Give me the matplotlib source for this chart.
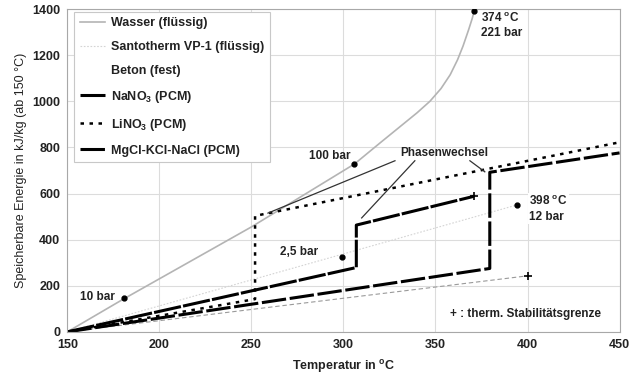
"""Speicherbare Energie verschiedener Speichermedien ueber der Temperatur."""
import matplotlib
matplotlib.use("Agg")
import matplotlib.pyplot as plt

plt.rcParams["font.family"] = ["Liberation Sans", "DejaVu Sans"]
plt.rcParams["mathtext.fontset"] = "custom"
plt.rcParams["mathtext.rm"] = "Liberation Sans:bold"
plt.rcParams["mathtext.default"] = "rm"

# Wasser (fluessig), Siedelinie
wasser_t = [150, 180, 200, 250, 306, 320, 330, 340, 347, 353, 358, 362,
            365, 368, 370, 371]
wasser_e = [0, 140, 230, 455, 728, 820, 885, 950, 1000, 1055, 1115, 1180,
            1240, 1310, 1360, 1390]

santo_t = [150, 394.5]
santo_e = [0, 551]

beton_t = [150, 400]
beton_e = [0, 243]

nano3_t = [150, 307, 307, 371]
nano3_e = [0, 279, 463, 588]

lino3_t = [150, 252, 252, 450]
lino3_e = [0, 142, 503, 822]

mgcl_t = [150, 379.5, 379.5, 450]
mgcl_e = [0, 275, 692, 776]

# Druckpunkte (Dampfdruck) und thermische Stabilitaetsgrenzen
druck_t = [180.6, 306, 371, 299.2, 394.5]
druck_e = [145, 728, 1390, 323, 551]
stab_t = [371, 400]
stab_e = [588, 243]

fig, ax = plt.subplots(figsize=(6.29, 3.75), dpi=100)
fig.subplots_adjust(left=0.107, right=0.985, top=0.976, bottom=0.115)

ax.plot(wasser_t, wasser_e, color="#b4b4b4", lw=1.2, label="Wasser (flüssig)")
ax.plot(santo_t, santo_e, color="#d4d4d4", lw=0.8, ls=(0, (1.5, 1.5)),
        label="Santotherm VP-1 (flüssig)")
beton, = ax.plot(beton_t, beton_e, color="#9a9a9a", lw=0.8, ls=(0, (4, 2.5)),
                 label="Beton (fest)")
ax.plot(nano3_t, nano3_e, color="black", lw=2.2, ls=(0, (9, 0.7)),
        label="NaNO$_3$ (PCM)")
ax.plot(lino3_t, lino3_e, color="black", lw=1.8, ls=(0, (1.4, 2.2)),
        label="LiNO$_3$ (PCM)")
ax.plot(mgcl_t, mgcl_e, color="black", lw=2.2, ls=(0, (8, 1.2)),
        label="MgCl-KCl-NaCl (PCM)")

ax.plot(druck_t, druck_e, "o", color="black", ms=3.5, zorder=5)
ax.plot(stab_t, stab_e, "+", color="black", ms=6, mew=1.2, zorder=5)

# Beschriftungen
bold = dict(fontsize=8.5, fontweight="bold", color="#222222")
ax.text(176, 150, "10 bar", ha="right", va="center", **bold)
ax.text(304, 763, "100 bar", ha="right", va="center", **bold)
ax.text(286, 347, "2,5 bar", ha="right", va="center", **bold)
ax.text(374.5, 1392, "374 $^{o}$C\n221 bar", ha="left", va="top",
        linespacing=1.3, **bold)
ax.text(401, 535, "398 $^{o}$C\n12 bar", ha="left", va="center",
        linespacing=1.3, bbox=dict(facecolor="white", edgecolor="none", pad=1),
        **bold)
ax.text(354.5, 777, "Phasenwechsel", ha="center", va="center", **bold)
ax.text(358, 77, "+ : therm. Stabilitätsgrenze", ha="left", va="center", **bold)

for (x0, y0), (x1, y1) in [((328, 742), (259, 515)),
                           ((338.8, 742), (309.9, 494)),
                           ((368.7, 742), (376.8, 694))]:
    ax.plot([x0, x1], [y0, y1], color="#333333", lw=0.9)

ax.set_xlim(150, 450)
ax.set_ylim(0, 1400)
ax.set_xticks(range(150, 451, 50))
ax.set_yticks(range(0, 1401, 200))
ax.grid(True, color="#dcdcdc", lw=0.8)
ax.set_axisbelow(True)
for sp in ax.spines.values():
    sp.set_color("#a8a8a8")
    sp.set_linewidth(0.8)
ax.tick_params(length=0, pad=5, labelsize=9, labelcolor="#222222")
for lab in ax.get_xticklabels() + ax.get_yticklabels():
    lab.set_fontweight("bold")

ax.set_xlabel("Temperatur in $^{o}$C", fontsize=9, fontweight="bold",
              color="#222222", labelpad=5)
ax.set_ylabel("Speicherbare Energie in kJ/kg (ab 150 °C)", fontsize=9,
              color="#222222", labelpad=4)

leg = ax.legend(loc="upper left", bbox_to_anchor=(0.012, 0.992),
                borderaxespad=0, fontsize=9, labelspacing=0.95,
                handlelength=2.0, handletextpad=0.5, borderpad=0.45,
                fancybox=False, framealpha=1)
leg.get_frame().set_edgecolor("#c8c8c8")
leg.get_frame().set_linewidth(0.8)
for t in leg.get_texts():
    t.set_fontweight("bold")
    t.set_color("#222222")
# Beton-Symbol in der Legende ist im Original praktisch unsichtbar
leg.legend_handles[2].set_alpha(0.0)

plt.savefig("out.png", dpi=100)
plt.close()
